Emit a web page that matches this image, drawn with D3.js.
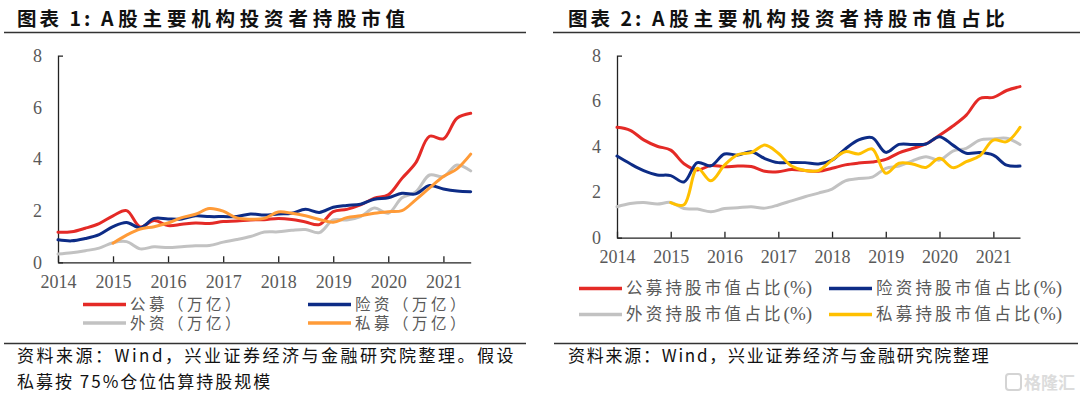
<!DOCTYPE html>
<html lang="zh">
<head>
	<meta charset="UTF-8">
	<title>A股主要机构投资者持股</title>
	<style>
		body { margin: 0; background: #fff; }
		svg { display: block; }
	</style>
</head>
<body>
	<svg width="1080" height="399"></svg>

	<script src="https://d3js.org/d3.v7.min.js"></script>
	<script>
		// 季度数据点（季初）
		var periods = ["2014-01","2014-04","2014-07","2014-10",
			"2015-01","2015-04","2015-07","2015-10",
			"2016-01","2016-04","2016-07","2016-10",
			"2017-01","2017-04","2017-07","2017-10",
			"2018-01","2018-04","2018-07","2018-10",
			"2019-01","2019-04","2019-07","2019-10",
			"2020-01","2020-04","2020-07","2020-10",
			"2021-01","2021-04","2021-07"];
		var yearTicks = [2014, 2015, 2016, 2017, 2018, 2019, 2020, 2021];
		var yTicks = [0, 2, 4, 6, 8];

		// 图表1：持股市值（万亿）
		var gongmuValue = [1.16,1.18,1.32,1.5, 1.8,2.0,1.37,1.62, 1.42,1.47,1.52,1.5, 1.58,1.6,1.64,1.65,
			1.7,1.66,1.56,1.46, 1.96,2.05,2.22,2.48, 2.61,3.25,3.85,4.88, 4.78,5.58,5.77];
		var xianziValue = [0.87,0.83,0.92,1.07, 1.38,1.54,1.34,1.7, 1.68,1.68,1.8,1.77, 1.77,1.77,1.87,1.83,
			1.87,1.9,2.05,1.93, 2.13,2.2,2.25,2.44, 2.5,2.67,2.65,2.97, 2.84,2.76,2.73];
		var waiziValue = [0.32,0.37,0.45,0.55, 0.76,0.8,0.52,0.6, 0.57,0.6,0.64,0.65, 0.78,0.88,1.0,1.17,
			1.18,1.24,1.27,1.15, 1.64,1.64,1.77,2.1, 1.9,2.5,2.72,3.38, 3.32,3.77,3.54];
		var simuValue = [null,null,null,null, 0.74,1.05,1.29,1.38, 1.52,1.73,1.86,2.08, 1.98,1.72,1.67,1.7,
			1.95,1.9,1.8,1.66, 1.55,1.73,1.8,1.9, 1.96,2.0,2.42,2.88, 3.32,3.62,4.19];

		// 图表2：持股市值占比（%）
		var gongmuShare = [4.85,4.72,4.3,4.02, 3.85,3.25,2.98,3.17, 3.12,3.15,3.13,2.92, 2.9,3.0,2.95,2.92,
			3.05,3.2,3.28,3.33, 3.44,3.73,3.92,4.12, 4.5,4.91,5.39,6.12, 6.17,6.47,6.64];
		var xianziShare = [3.59,3.25,2.95,2.76, 2.73,2.45,3.3,3.16, 3.68,3.63,3.78,3.48, 3.3,3.31,3.3,3.24,
			3.41,3.9,4.3,4.4, 3.75,4.1,4.1,4.12, 4.44,4.07,3.71,3.74, 3.63,3.19,3.15];
		var waiziShare = [1.36,1.5,1.55,1.48, 1.55,1.28,1.26,1.14, 1.28,1.32,1.36,1.3, 1.44,1.62,1.8,1.96,
			2.14,2.5,2.6,2.66, 3.05,3.15,3.38,3.56, 3.41,3.81,3.93,4.29, 4.34,4.37,4.1];
		var simuShare = [null,null,null,null, 1.54,1.45,3.05,2.5, 3.19,3.65,3.74,4.07, 3.71,3.15,2.95,2.95,
			3.41,3.78,3.68,3.9, 2.83,3.27,3.24,3.09, 3.49,3.08,3.34,3.6, 4.29,4.22,4.85];

		var valueNames = ["公募（万亿）", "险资（万亿）", "外资（万亿）", "私募（万亿）"];
		var shareNames = ["公募持股市值占比", "险资持股市值占比", "外资持股市值占比", "私募持股市值占比"];

		var cjk = "'Noto Sans CJK SC', 'Noto Sans', sans-serif";
		var serif = "'Liberation Serif', 'DejaVu Serif', serif";
		var textGray = "#595959";

		var svg = d3.select("svg");
		var parse = d3.timeParse("%Y-%m");
		var dates = periods.map(parse);

		function drawChart(cfg) {
			var x = d3.scaleTime()
				.domain([dates[0], dates[dates.length - 1]])
				.range([cfg.left, cfg.right]);
			var y = d3.scaleLinear()
				.domain([0, 8])
				.range([cfg.bottom, 55.7]);

			// x轴
			var xAxis = d3.axisBottom(x)
				.tickValues(yearTicks.map(function(yr){ return new Date(yr, 0, 1); }))
				.tickFormat(d3.timeFormat("%Y"))
				.tickSizeInner(-6)
				.tickSizeOuter(0)
				.tickPadding(13);
			var gx = svg.append("g")
				.attr("transform", "translate(0," + cfg.bottom + ")")
				.call(xAxis);
			gx.select(".domain").attr("stroke", "#222").attr("stroke-width", 1.3);
			gx.selectAll(".tick line").attr("stroke", "#222").attr("stroke-width", 1.3);
			gx.selectAll(".tick text")
				.attr("font-family", serif)
				.attr("font-size", 18)
				.attr("fill", textGray);

			// y轴
			var yAxis = d3.axisLeft(y)
				.tickValues(yTicks)
				.tickSizeInner(0)
				.tickSizeOuter(-5)
				.tickPadding(16);
			var gy = svg.append("g")
				.attr("transform", "translate(" + cfg.left + ",0)")
				.call(yAxis);
			gy.select(".domain").attr("stroke", "#222").attr("stroke-width", 1.3);
			gy.selectAll(".tick text")
				.attr("font-family", serif)
				.attr("font-size", 18)
				.attr("fill", textGray);

			var line = d3.line()
				.defined(function(d){ return d.v != null; })
				.x(function(d){ return x(d.t); })
				.y(function(d){ return y(d.v); })
				.curve(d3.curveCatmullRom.alpha(0.5));

			// 先画灰色，再画其他线
			var order = [2, 0, 1, 3];
			order.forEach(function(k) {
				var pts = cfg.series[k].map(function(v, i){ return {t: dates[i], v: v}; });
				svg.append("path")
					.datum(pts)
					.attr("d", line)
					.attr("fill", "none")
					.attr("stroke", cfg.colors[k])
					.attr("stroke-width", 3)
					.attr("stroke-linejoin", "round")
					.attr("stroke-linecap", "round");
			});

			// 图例
			cfg.names.forEach(function(name, k) {
				var col = k % 2, row = Math.floor(k / 2);
				var lx = cfg.legendX[col], ly = cfg.legendY[row];
				svg.append("line")
					.attr("x1", lx).attr("x2", lx + 43)
					.attr("y1", ly).attr("y2", ly)
					.attr("stroke", cfg.colors[k])
					.attr("stroke-width", 3.5);
				var t = svg.append("text")
					.attr("x", lx + 47)
					.attr("y", ly + 5.5)
					.attr("font-family", cjk)
					.attr("font-size", cfg.legendFont)
					.attr("letter-spacing", cfg.legendSpacing)
					.attr("fill", textGray)
					.text(name);
				if (cfg.pct) {
					t.append("tspan")
						.attr("font-family", serif)
						.attr("font-size", 19)
						.attr("letter-spacing", 0)
						.text("(%)");
				}
			});
		}

		drawChart({
			left: 58, right: 470.7, bottom: 262.3,
			series: [gongmuValue, xianziValue, waiziValue, simuValue],
			colors: ["#E42A26", "#0D2C86", "#C2C2C2", "#FF9B38"],
			names: valueNames,
			legendX: [83, 308], legendY: [304.5, 323],
			legendFont: 15.5, legendSpacing: 3.5, pct: false
		});

		drawChart({
			left: 617, right: 1020, bottom: 237.7,
			series: [gongmuShare, xianziShare, waiziShare, simuShare],
			colors: ["#E42A26", "#0D2C86", "#C2C2C2", "#FFC000"],
			names: shareNames,
			legendX: [579, 829], legendY: [288.5, 314.5],
			legendFont: 16.5, legendSpacing: 3.2, pct: true
		});

		// 标题
		function title(x0, num, text) {
			svg.append("text")
				.attr("x", x0).attr("y", 26)
				.attr("font-family", cjk).attr("font-size", 19.5).attr("font-weight", "bold")
				.attr("letter-spacing", 3).attr("fill", "#111")
				.text("图表 " + num + ":");
			svg.append("text")
				.attr("x", x0 + 84).attr("y", 26)
				.attr("font-family", cjk).attr("font-size", 19.5).attr("font-weight", "bold")
				.attr("letter-spacing", 4.8).attr("fill", "#111")
				.text(text);
		}
		title(17, 1, "A股主要机构投资者持股市值");
		title(568, 2, "A股主要机构投资者持股市值占比");

		// 分隔线
		[[4, 526, 32.5], [553, 1080, 32.5], [4, 526, 343.5], [554, 1078, 343.5]].forEach(function(l) {
			svg.append("line")
				.attr("x1", l[0]).attr("x2", l[1])
				.attr("y1", l[2]).attr("y2", l[2])
				.attr("stroke", "#333").attr("stroke-width", 1.3);
		});

		// 资料来源
		function note(x0, y0, str, sp) {
			svg.append("text")
				.attr("x", x0).attr("y", y0)
				.attr("font-family", cjk).attr("font-size", 17)
				.attr("letter-spacing", sp).attr("fill", "#111")
				.text(str);
		}
		note(17, 362, "资料来源：Wind，兴业证券经济与金融研究院整理。假设", 2.5);
		note(17, 388, "私募按 75%仓位估算持股规模", 2);
		note(568, 362, "资料来源：Wind，兴业证券经济与金融研究院整理", 1.75);

		// 水印
		svg.append("rect")
			.attr("x", 1006).attr("y", 374).attr("width", 15).attr("height", 16)
			.attr("rx", 3).attr("fill", "none")
			.attr("stroke", "#d4d4d4").attr("stroke-width", 2);
		svg.append("text")
			.attr("x", 1024).attr("y", 389)
			.attr("font-family", cjk).attr("font-size", 17).attr("font-weight", "bold")
			.attr("fill", "#dcdcdc")
			.text("格隆汇");
	</script>
</body>
</html>
